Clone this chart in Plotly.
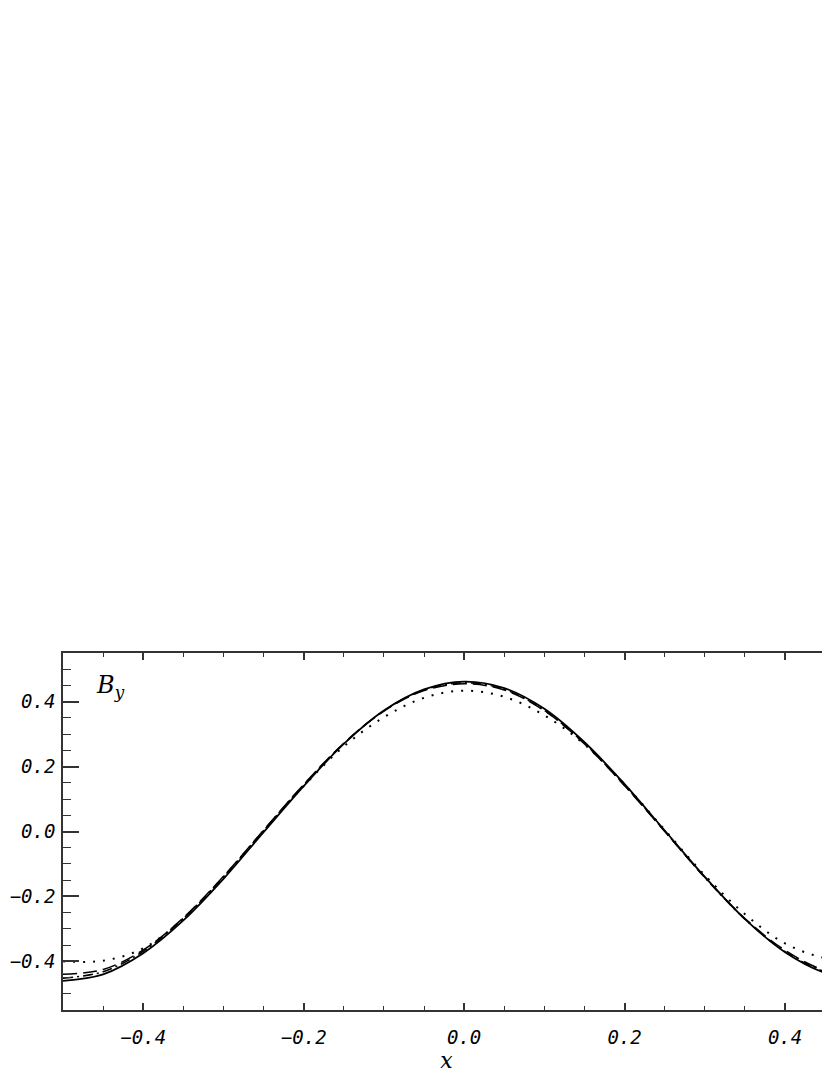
import plotly.graph_objects as go

# sample positions along x
x_vals = [-0.50, -0.45, -0.40, -0.35, -0.30, -0.25, -0.20, -0.15, -0.10, -0.05, 0.00,
          0.05, 0.10, 0.15, 0.20, 0.25, 0.30, 0.35, 0.40, 0.45, 0.50]

# B_y profiles
by_solid = [-0.460, -0.440, -0.375, -0.274, -0.146, -0.002, 0.140, 0.270, 0.373, 0.438, 0.462,
            0.442, 0.378, 0.275, 0.146, 0.003, -0.140, -0.270, -0.372, -0.436, -0.460]
by_dashed = [-0.440, -0.425, -0.365, -0.266, -0.138, 0.004, 0.145, 0.272, 0.371, 0.434, 0.455,
             0.436, 0.372, 0.270, 0.141, 0.000, -0.141, -0.268, -0.366, -0.428, -0.442]
by_dashdot = [-0.452, -0.432, -0.369, -0.268, -0.140, 0.003, 0.144, 0.271, 0.372, 0.436, 0.458,
              0.438, 0.373, 0.271, 0.142, 0.001, -0.142, -0.270, -0.370, -0.432, -0.450]
by_dotted = [-0.400, -0.398, -0.360, -0.268, -0.140, 0.002, 0.140, 0.262, 0.352, 0.412, 0.434,
             0.415, 0.358, 0.268, 0.145, 0.005, -0.135, -0.255, -0.345, -0.390, -0.400]

series = [
    ('solid', by_solid, 'solid', 1.8),
    ('dashed', by_dashed, '14px,6px', 1.5),
    ('dashdot', by_dashdot, '10px,4px,2px,4px', 1.5),
    ('dotted', by_dotted, '2px,8px', 2.0),
]

fig = go.Figure()
for name, ys, dash, w in series:
    fig.add_trace(go.Scatter(
        x=x_vals, y=ys, mode='lines', name=name,
        line=dict(color='black', width=w, dash=dash, shape='spline'),
    ))

tick_font = dict(family='DejaVu Sans Mono', size=19, color='black', style='italic')

fig.add_annotation(
    x=0.04, y=0.955, xref='paper', yref='paper', showarrow=False,
    xanchor='left', yanchor='top',
    text='B<sub>y</sub>',
    font=dict(family='DejaVu Serif', size=24, color='black', style='italic'),
)

fig.update_xaxes(
    range=[-0.5, 0.456], dtick=0.2, tick0=0, tickformat='.1f',
    ticks='inside', ticklen=7, tickwidth=1.5, tickcolor='#333',
    minor=dict(dtick=0.05, ticks='inside', ticklen=4, tickwidth=1.2, tickcolor='#333'),
    showline=True, linecolor='#333', linewidth=1.5, mirror='ticks',
    showgrid=False, zeroline=False, tickfont=tick_font, ticklabelstandoff=9,
    automargin=False,
    title=dict(text='x', font=dict(family='DejaVu Serif', size=22, color='black',
                                    style='italic'), standoff=6),
)
fig.update_yaxes(
    range=[-0.55, 0.55], dtick=0.2, tick0=0, tickformat='.1f',
    ticks='inside', ticklen=16, tickwidth=1.5, tickcolor='#333',
    minor=dict(dtick=0.05, ticks='inside', ticklen=8, tickwidth=1.2, tickcolor='#333'),
    showline=True, linecolor='#333', linewidth=1.5, mirror=False,
    showgrid=False, zeroline=False, tickfont=tick_font, ticklabelstandoff=2,
    automargin=False,
)

# page body has an 8px margin, so the figure is a little smaller than the window
fig.update_layout(
    width=822, height=1067,
    margin=dict(l=55, r=0, t=645, b=65),
    plot_bgcolor='white', paper_bgcolor='white',
    showlegend=False,
)

fig.write_html("out.html")
